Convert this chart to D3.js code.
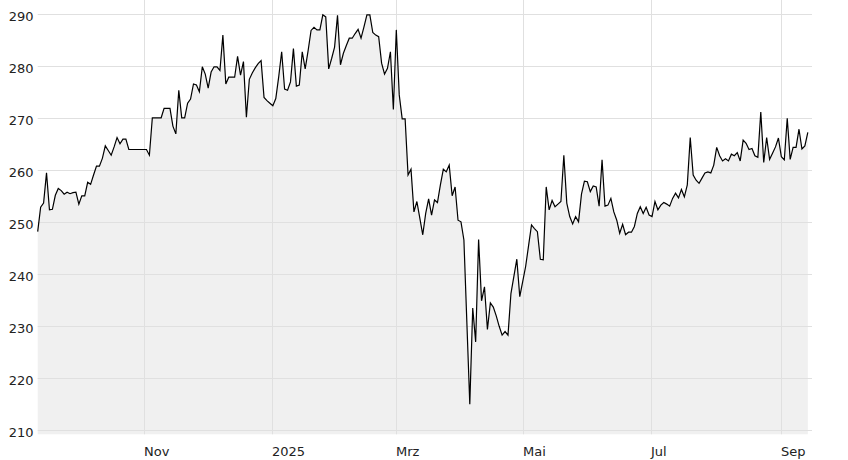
<!DOCTYPE html>
<html><head><meta charset="utf-8">
<script src="https://cdn.jsdelivr.net/npm/d3@7"></script>
<style>html,body{margin:0;padding:0;background:#fff;}svg{display:block;}</style>
</head><body>
<svg id="chart" width="848" height="460"></svg>
<script>
const values = [248.2,252.9,253.7,259.5,252.4,252.5,255.2,256.5,256.1,255.4,255.8,255.5,255.7,255.8,253.5,255.1,255.1,257.7,257.3,259.1,
260.8,260.8,262.3,264.7,263.8,262.9,264.5,266.3,265.1,266,266,264,264,264,264,264,264,264,262.9,270.1,
270.1,270.1,270.1,271.9,271.9,271.9,268.5,267,275.4,270.1,270.1,272.9,273.7,276.6,276.4,275.1,279.9,278.5,275.8,278.9,
279.9,279.9,279.2,286,276.6,277.9,277.9,277.9,281.9,278.3,280.9,270.2,277.5,278.7,279.7,280.5,281.1,274,273.4,272.9,
272.4,273.8,278,282.8,275.6,275.4,277,283.4,276.2,276.4,282.8,279.5,283,286.9,287.5,287,287,289.9,289.5,279.5,
281.5,283.7,289.8,280.3,282.5,284,285.4,285.4,286.3,287.1,285.4,287.6,289.9,289.9,286.5,286,285.7,280.6,278.5,279.6,
282.8,271.7,287,274.5,269.9,269.9,259.1,260.2,252,254,250.8,247.6,251.7,254.5,251.4,254.3,253.8,257.2,260.2,259.7,
261,255.1,256.8,250.4,250.1,246.6,230.8,215,233.5,227,246.7,234.9,237.6,229.4,234.5,233.7,232,230,228.3,229,
228.3,236.3,239.6,242.9,235.7,238.6,241.5,245.5,249.5,248.8,248.2,242.9,242.8,256.8,252.4,254.2,253,253.5,254,262.9,
253.7,251.1,249.7,251.1,250.1,255.4,257.9,257.8,255.9,257,256.8,253.1,262,253.1,253.3,254.6,252,250.4,247.9,249.6,
247.6,248.1,248.1,249.2,251.7,253,251.7,252.9,251.4,251.1,254,252.4,253.3,253.8,253.5,253.1,254.6,255.6,254.7,256.3,
254.9,257.2,266.3,259.1,258.1,257.5,258.5,259.5,259.7,259.5,261,264.4,262.8,261.8,262.2,261.8,263.1,262.8,263.4,261.8,
265.8,265.2,264,264.2,262.8,262.5,271.2,261.5,266.3,262.1,263.3,264.5,266.2,262.6,262,270,262.1,264.4,264.4,267.9,
264.1,264.7,267.3];
const firstDate = "2024-09-11";
const lastDate = "2025-09-14";
const domainStart = "2024-09-11";
const domainEnd = "2025-09-16";
const xTickDates = ["2024-11-01","2025-01-01","2025-03-01","2025-05-01","2025-07-01","2025-09-01"];
const xTickLabels = ["Nov","2025","Mrz","Mai","Jul","Sep"];
const yTicks = [210,220,230,240,250,260,270,280,290];

(function draw() {
  const svg = d3.select("#chart");
  const pL = 37.7, pR = 812, pT = 0, pB = 434.3;
  const parse = d3.utcParse("%Y-%m-%d");
  const t0 = parse(firstDate).getTime(), t1 = parse(lastDate).getTime();
  const n = values.length;
  const data = values.map((v,i) => ({d: new Date(t0 + i*(t1-t0)/(n-1)), v}));

  const x = d3.scaleUtc().domain([parse(domainStart), parse(domainEnd)]).range([pL, pR]);
  const y = d3.scaleLinear().domain([210, 290]).range([430.3, 14.3]);

  const area = d3.area().x(d => x(d.d)).y0(pB).y1(d => y(d.v));
  const line = d3.line().x(d => x(d.d)).y(d => y(d.v));

  svg.append("path").datum(data).attr("d", area).attr("fill", "#f0f0f0");

  const grid = svg.append("g").attr("stroke", "#e0e0e0").attr("stroke-width", 1);
  yTicks.forEach(t => {
    const yy = Math.round(y(t)) + 0.5;
    grid.append("line").attr("x1", pL).attr("x2", pR).attr("y1", yy).attr("y2", yy);
  });
  xTickDates.forEach(t => {
    const xx = Math.round(x(parse(t))) + 0.5;
    grid.append("line").attr("x1", xx).attr("x2", xx).attr("y1", pT).attr("y2", pB);
  });

  svg.append("path").datum(data).attr("d", line).attr("fill", "none")
    .attr("stroke", "#000").attr("stroke-width", 1.2).attr("stroke-linejoin", "miter");

  const yAxis = svg.append("g").attr("font-family", "DejaVu Sans, sans-serif").attr("font-size", 13).attr("fill", "#222");
  yTicks.forEach(t => {
    yAxis.append("text").attr("x", 33.5).attr("y", y(t) + 6.3).attr("text-anchor", "end").text(t);
  });
  const xAxis = svg.append("g").attr("font-family", "DejaVu Sans, sans-serif").attr("font-size", 13).attr("fill", "#222");
  xTickDates.forEach((t, i) => {
    xAxis.append("text").attr("x", Math.round(x(parse(t)))).attr("y", 455.7).attr("text-anchor", "start").text(xTickLabels[i]);
  });
})();
</script>
</body></html>
